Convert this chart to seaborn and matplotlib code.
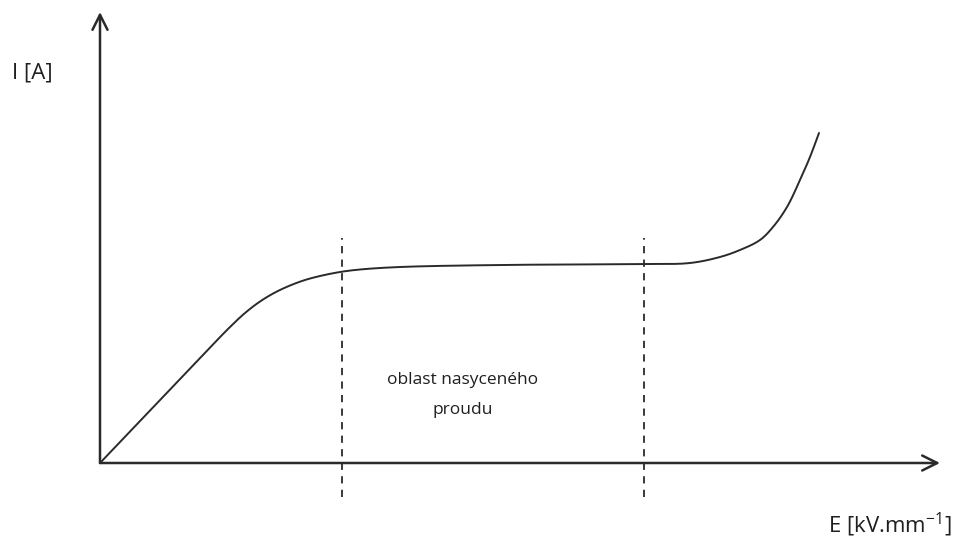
import matplotlib
matplotlib.use("Agg")
import matplotlib.pyplot as plt
import numpy as np
import pandas as pd
import seaborn as sns

# Current vs. field strength characteristic (arbitrary units)
field = [0, 110, 130, 145, 160, 175, 190, 205, 220, 240, 260, 300, 400,
         544, 590, 620, 640, 660, 673, 687, 700, 710, 719]
current = [0, 115.5, 136, 150, 161.5, 170.5, 177.5, 183, 187, 191, 193.5, 196,
           198, 199, 200, 206, 213, 223, 236, 256, 283, 306, 330]

# Boundaries of the saturation region
region_bounds = [242, 544]
region_label = "oblast nasyceného\nproudu"
x_label = r"E [kV.mm$^{\mathregular{-1}}$]"
y_label = "I [A]"


def catmull_rom(xs, ys, n=40):
    """Centripetal Catmull-Rom spline through the given points."""
    pts = np.column_stack([xs, ys]).astype(float)
    pts = np.vstack([2 * pts[0] - pts[1], pts, 2 * pts[-1] - pts[-2]])
    out = []
    for i in range(1, len(pts) - 2):
        p0, p1, p2, p3 = pts[i - 1], pts[i], pts[i + 1], pts[i + 2]
        t0 = 0.0
        t1 = t0 + np.linalg.norm(p1 - p0) ** 0.5
        t2 = t1 + np.linalg.norm(p2 - p1) ** 0.5
        t3 = t2 + np.linalg.norm(p3 - p2) ** 0.5
        t = np.linspace(t1, t2, n, endpoint=False)[:, None]
        a1 = (t1 - t) / (t1 - t0) * p0 + (t - t0) / (t1 - t0) * p1
        a2 = (t2 - t) / (t2 - t1) * p1 + (t - t1) / (t2 - t1) * p2
        a3 = (t3 - t) / (t3 - t2) * p2 + (t - t2) / (t3 - t2) * p3
        b1 = (t2 - t) / (t2 - t0) * a1 + (t - t0) / (t2 - t0) * a2
        b2 = (t3 - t) / (t3 - t1) * a2 + (t - t1) / (t3 - t1) * a3
        out.append((t2 - t) / (t2 - t1) * b1 + (t - t1) / (t2 - t1) * b2)
    out.append(pts[-2][None, :])
    return np.vstack(out)


sns.set_theme(style="white")
plt.rcParams["font.family"] = ["Open Sans", "DejaVu Sans"]

fig = plt.figure(figsize=(9.63, 5.41), dpi=100)
ax = fig.add_axes([0, 0, 1, 1])
ax.set_xlim(-100, 863)
ax.set_ylim(-78, 463)
ax.axis("off")

curve = catmull_rom(field, current)
smooth = pd.DataFrame({"E": curve[:, 0], "I": curve[:, 1]})
sns.lineplot(data=smooth, x="E", y="I", sort=False, color="#2a2a2a",
             linewidth=1.4, ax=ax, estimator=None)

# axes with open arrowheads
arrow = dict(arrowstyle="->,head_length=0.9,head_width=0.45",
             color="#2a2a2a", lw=1.8, shrinkA=0, shrinkB=0)
ax.annotate("", xy=(840, 0), xytext=(0, 0), arrowprops=arrow)
ax.annotate("", xy=(0, 451), xytext=(0, 0), arrowprops=arrow)

# dashed region boundaries
for xb in region_bounds:
    ax.plot([xb, xb], [-34, 225], color="#2a2a2a", lw=1.3,
            linestyle=(0, (4, 3.5)))

ax.text(363, 68, region_label, ha="center", va="center", fontsize=12.5,
        color="#1f1f1f", linespacing=2.2)
ax.text(-88, 390, y_label, ha="left", va="center", fontsize=16,
        color="#1f1f1f")
ax.text(790, -62, x_label, ha="center", va="center", fontsize=16,
        color="#1f1f1f")

fig.savefig("out.png", dpi=100, facecolor="white")
